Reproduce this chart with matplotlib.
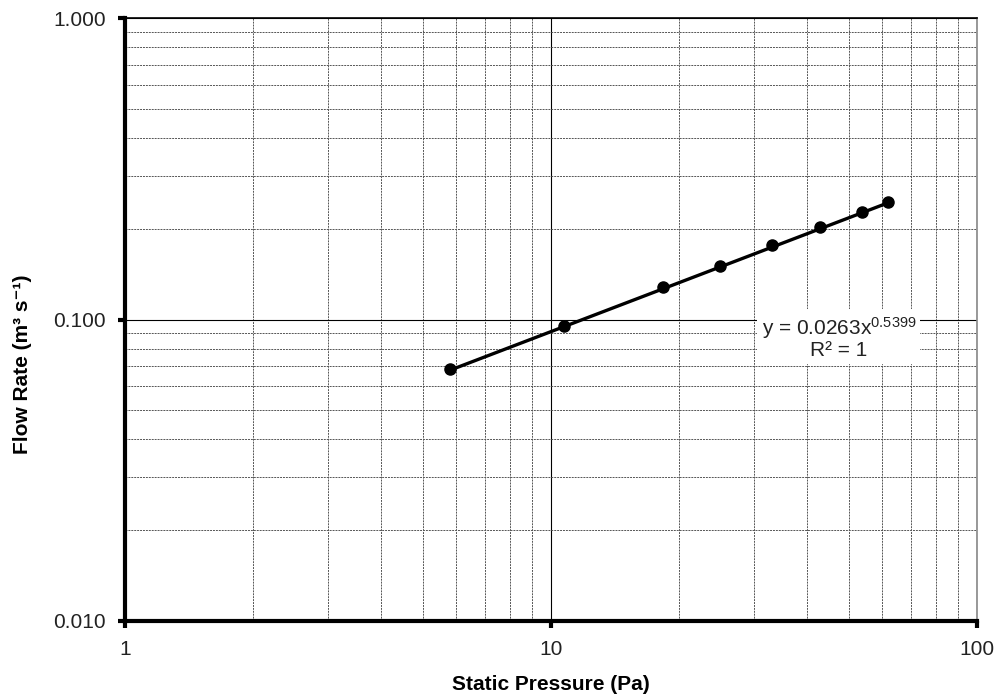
import numpy as np
import matplotlib
matplotlib.use("Agg")
import matplotlib.pyplot as plt
from matplotlib.ticker import LogLocator, FixedLocator, NullFormatter

plt.rcParams['font.family'] = ['Liberation Sans', 'DejaVu Sans']
plt.rcParams['mathtext.fontset'] = 'custom'
plt.rcParams['mathtext.rm'] = 'Liberation Sans'
plt.rcParams['mathtext.it'] = 'Liberation Sans:italic'
plt.rcParams['mathtext.bf'] = 'Liberation Sans:bold'

# Measured fan curve
static_pressure = [5.79, 10.7, 18.3, 24.9, 33.1, 42.7, 53.8, 61.8]   # Pa
flow_rate = [0.0683, 0.0955, 0.128, 0.150, 0.176, 0.202, 0.228, 0.246]  # m3/s

# Power-law trendline coefficients
fit_a = 0.0263
fit_b = 0.5399
fit_r2 = 1

x_ticks = [1, 10, 100]
x_tick_labels = ["1", "10", "100"]
y_ticks = [0.01, 0.1, 1.0]
y_tick_labels = ["0.010", "0.100", "1.000"]

fig = plt.figure(figsize=(9.95, 7.0), dpi=100)
ax = fig.add_axes([125 / 995, 1 - 621 / 700, (977 - 125) / 995, (621 - 18) / 700])
ax.set_xscale('log')
ax.set_yscale('log')
ax.set_xlim(1, 100)
ax.set_ylim(0.01, 1.0)

# grid
ax.xaxis.set_major_locator(FixedLocator(x_ticks))
ax.yaxis.set_major_locator(FixedLocator(y_ticks))
ax.xaxis.set_minor_locator(LogLocator(base=10, subs=np.arange(2, 10)))
ax.yaxis.set_minor_locator(LogLocator(base=10, subs=np.arange(2, 10)))
ax.xaxis.set_minor_formatter(NullFormatter())
ax.yaxis.set_minor_formatter(NullFormatter())
ax.grid(which='major', color='black', linewidth=0.8, linestyle='-')
ax.grid(which='minor', color='#555555', linewidth=0.7, linestyle=(0, (2, 1)))
ax.set_axisbelow(True)

ax.set_xticks(x_ticks)
ax.set_xticklabels(x_tick_labels)
ax.set_yticks(y_ticks)
ax.set_yticklabels(y_tick_labels)
ax.tick_params(which='major', length=5, width=3, color='black', labelsize=15,
               labelcolor='#222222', pad=9)
ax.tick_params(which='minor', length=0)

for side in ['left', 'bottom']:
    ax.spines[side].set_linewidth(3)
    ax.spines[side].set_color('black')
ax.spines['top'].set_linewidth(1.2)
ax.spines['top'].set_color('black')
ax.spines['right'].set_linewidth(1.2)
ax.spines['right'].set_color('#888888')

# trendline
xf = np.linspace(min(static_pressure), max(static_pressure), 200)
ax.plot(xf, fit_a * xf ** fit_b, color='black', linewidth=2.4, zorder=3)
ax.plot(static_pressure, flow_rate, 'o', color='black', markersize=8, zorder=4)

eq = "y = %.4fx$^{\\mathrm{%.4f}}$\nR² = %d" % (fit_a, fit_b, fit_r2)
ax.text(0.838, 0.470, eq, transform=ax.transAxes, ha='center', va='center',
        fontsize=15, color='#222222', linespacing=1.0, multialignment='center',
        bbox=dict(facecolor='white', edgecolor='none', pad=3))

ax.set_xlabel("Static Pressure (Pa)", fontsize=15, fontweight='bold', labelpad=11)
ax.set_ylabel("Flow Rate (m³ s⁻¹)", fontsize=15, fontweight='bold')
ax.yaxis.set_label_coords(-0.109, 0.426)

fig.savefig("out.png", dpi=100)
